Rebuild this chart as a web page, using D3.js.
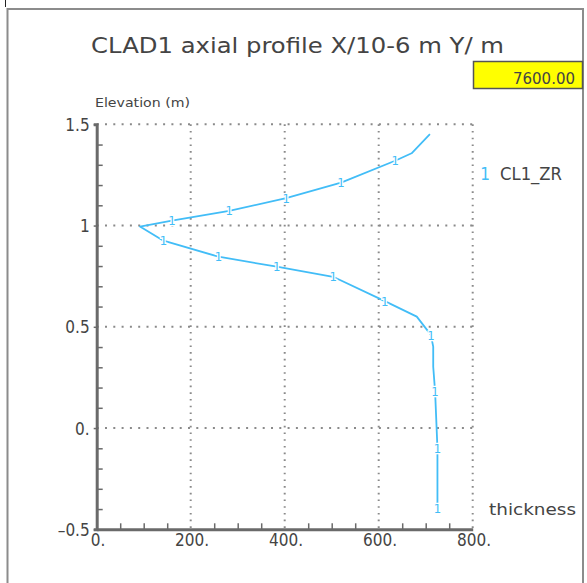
<!DOCTYPE html>
<html>
<head>
<meta charset="utf-8">
<script src="https://cdn.jsdelivr.net/npm/d3@7"></script>
<style>
  html, body { margin: 0; padding: 0; background: #fff; }
  svg { display: block; }
  text { font-family: "DejaVu Sans Condensed", "DejaVu Sans", sans-serif; fill: #444; }
</style>
</head>
<body>
<svg id="chart" width="587" height="583"></svg>
<script>
// Axial cladding profile: oxide thickness (1e-6 m) against elevation (m)
const elevation = [1.451, 1.357, 1.320, 1.212, 1.135, 1.073, 1.024, 0.995, 0.925, 0.846,
                   0.797, 0.747, 0.627, 0.550, 0.460, 0.402, 0.303, 0.180, -0.100, -0.396];
const thickness = [709, 670, 635, 520, 403, 282, 160, 92, 142, 259,
                   383, 503, 613, 681, 711, 716, 716, 720, 725, 725];
// 1 = a curve symbol is drawn at that point
const markerFlag = [0, 0, 1, 1, 1, 1, 1, 0, 1, 1, 1, 1, 1, 0, 1, 0, 0, 1, 1, 1];

const xTicks = [0, 200, 400, 600, 800];
const xTickLabels = ["0.", "200.", "400.", "600.", "800."];
const yTicks = [-0.5, 0, 0.5, 1, 1.5];
const yTickLabels = ["\u20130.5", "0.", "0.5", "1", "1.5"];
const seriesName = "CL1_ZR";
const seriesSymbol = "1";
const timeValue = "7600.00";
const titleText = "CLAD1 axial profile X/10-6 m Y/ m";

const svg = d3.select("#chart");
const lineColor = "#42bdf7";
const axisColor = "#6a6a6a";
const gridColor = "#8a8a8a";
const textColor = "#505050";

// outer frame
svg.append("rect")
  .attr("x", 7.5).attr("y", 9).attr("width", 575.5).attr("height", 590)
  .attr("fill", "none").attr("stroke", "#8c8c8c").attr("stroke-width", 2);
svg.append("line")
  .attr("x1", 5.5).attr("x2", 5.5).attr("y1", 0).attr("y2", 7)
  .attr("stroke", "#222").attr("stroke-width", 1);

const x = d3.scaleLinear().domain([0, 800]).range([96.7, 472.7]);
const y = d3.scaleLinear().domain([-0.5, 1.5]).range([529.3, 124.3]);

// dotted grid
const grid = svg.append("g");
grid.selectAll("line.v").data(xTicks.filter(d => d > 0)).join("line")
  .attr("x1", d => x(d)).attr("x2", d => x(d))
  .attr("y1", y(1.5)).attr("y2", y(-0.5))
  .attr("stroke", gridColor).attr("stroke-width", 2)
  .attr("stroke-dasharray", "1.6 5.1");
grid.selectAll("line.h").data(yTicks.filter(d => d > -0.5)).join("line")
  .attr("x1", x(0)).attr("x2", x(800))
  .attr("y1", d => y(d)).attr("y2", d => y(d))
  .attr("stroke", gridColor).attr("stroke-width", 2)
  .attr("stroke-dasharray", "2 6.3");

// minor ticks
const xMinor = d3.range(50, 800, 50).filter(d => d % 200 !== 0);
const yMinor = d3.range(-4, 15).map(d => d / 10).filter(d => Math.round(d * 10) % 5 !== 0);

const yMinorAxis = svg.append("g")
  .attr("transform", `translate(${x(0)},0)`)
  .call(d3.axisRight(y).tickValues(yMinor).tickSize(6).tickFormat(""));
yMinorAxis.select(".domain").remove();
yMinorAxis.selectAll(".tick line").attr("stroke", axisColor).attr("stroke-width", 1.5);

const xMinorAxis = svg.append("g")
  .attr("transform", `translate(0,${y(-0.5)})`)
  .call(d3.axisTop(x).tickValues(xMinor).tickSize(6).tickFormat(""));
xMinorAxis.select(".domain").remove();
xMinorAxis.selectAll(".tick line").attr("stroke", axisColor).attr("stroke-width", 1.5);

// main axes with labels
const yAxis = svg.append("g")
  .attr("transform", `translate(${x(0)},0)`)
  .call(d3.axisLeft(y).tickValues(yTicks).tickSize(3).tickPadding(4)
        .tickFormat((d, i) => yTickLabels[i]));
yAxis.select(".domain").attr("stroke", axisColor).attr("stroke-width", 3);
yAxis.selectAll(".tick line").attr("stroke", axisColor).attr("stroke-width", 1.5);
yAxis.selectAll(".tick text")
  .attr("font-family", "'DejaVu Sans Condensed', 'DejaVu Sans', sans-serif")
  .attr("font-size", 17).attr("fill", textColor).attr("dy", "0.36em");

const xAxis = svg.append("g")
  .attr("transform", `translate(0,${y(-0.5)})`)
  .call(d3.axisBottom(x).tickValues(xTicks).tickSize(0).tickPadding(6)
        .tickFormat((d, i) => xTickLabels[i]));
xAxis.select(".domain").attr("stroke", axisColor).attr("stroke-width", 3);
xAxis.selectAll(".tick text")
  .attr("font-family", "'DejaVu Sans Condensed', 'DejaVu Sans', sans-serif")
  .attr("font-size", 17).attr("fill", textColor)
  .attr("dx", "0.05em").attr("dy", "0.62em");

// profile curve
const pts = elevation.map((e, i) => ({ e, t: thickness[i], m: markerFlag[i] }));
const line = d3.line().x(d => x(d.t)).y(d => y(d.e));
svg.append("path").datum(pts)
  .attr("d", line)
  .attr("fill", "none").attr("stroke", lineColor).attr("stroke-width", 1.8)
  .attr("stroke-linejoin", "round");

svg.append("g").selectAll("text").data(pts.filter(d => d.m)).join("text")
  .attr("x", d => x(d.t)).attr("y", d => y(d.e))
  .attr("text-anchor", "middle").attr("dy", "0.36em")
  .attr("font-size", 13).style("fill", lineColor)
  .attr("stroke", "#fff").attr("stroke-width", 2.5).attr("paint-order", "stroke")
  .text(seriesSymbol);

// title
svg.append("text")
  .attr("x", 91).attr("y", 53)
  .attr("font-size", 21).attr("fill", "#555")
  .attr("font-family", "'DejaVu Sans Condensed', 'DejaVu Sans', sans-serif")
  .attr("textLength", 413).attr("lengthAdjust", "spacingAndGlyphs")
  .text(titleText);

// time box
svg.append("rect")
  .attr("x", 473.5).attr("y", 61.5).attr("width", 109).attr("height", 27)
  .attr("fill", "#ffff00").attr("stroke", "#555").attr("stroke-width", 1.5);
svg.append("text")
  .attr("x", 575).attr("y", 84)
  .attr("text-anchor", "end").attr("font-size", 16).attr("fill", "#333")
  .attr("textLength", 62).attr("lengthAdjust", "spacingAndGlyphs")
  .text(timeValue);

// axis titles
svg.append("text")
  .attr("x", 95).attr("y", 107)
  .attr("font-size", 13).attr("fill", textColor)
  .attr("textLength", 95).attr("lengthAdjust", "spacingAndGlyphs")
  .text("Elevation (m)");
svg.append("text")
  .attr("x", 489).attr("y", 515)
  .attr("font-size", 15).attr("fill", textColor)
  .attr("textLength", 87).attr("lengthAdjust", "spacingAndGlyphs")
  .text("thickness");

// legend
svg.append("text")
  .attr("x", 485).attr("y", 180).attr("text-anchor", "middle")
  .attr("font-size", 17).style("fill", lineColor)
  .text(seriesSymbol);
svg.append("text")
  .attr("x", 500).attr("y", 180)
  .attr("font-size", 17).attr("fill", textColor)
  .attr("textLength", 62).attr("lengthAdjust", "spacingAndGlyphs")
  .text(seriesName);
</script>
</body>
</html>
